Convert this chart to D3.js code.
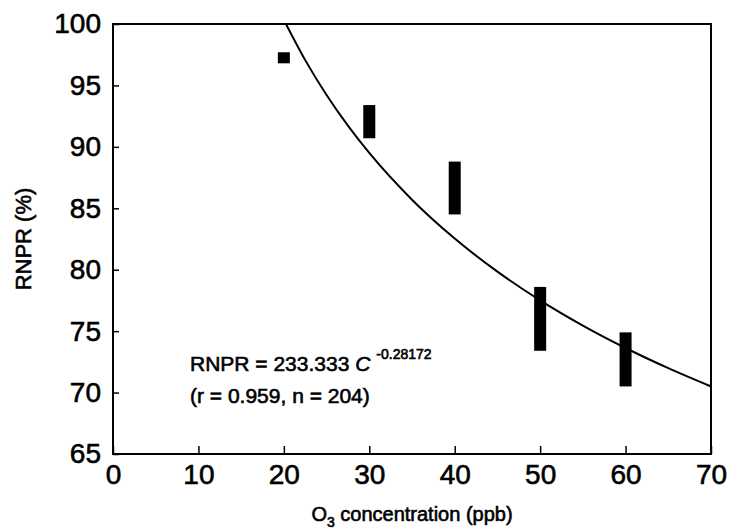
<!DOCTYPE html>
<meta charset="utf-8">
<style>
body { margin: 0; background: #fff; }
text { font-family: "Liberation Sans", Arial, sans-serif; fill: #000; }
.heavy { stroke: #000; stroke-width: 0.6px; }
</style>
<svg width="730" height="532"></svg>
<script src="https://cdn.jsdelivr.net/npm/d3@7"></script>
<script>
var conc = [20, 30, 40, 50, 60]
var rnprLow = [96.8, 90.7, 84.5, 73.4, 70.5]
var rnprHigh = [97.7, 93.4, 88.8, 78.6, 74.9]

// fitted power curve stated on the chart: RNPR = a * C^b
var fitA = 233.333
var fitB = -0.28172
var fitC = [20, 22.5, 25, 27.5, 30, 35, 40, 45, 50, 55, 60, 65, 70]

var xTicks = [0, 10, 20, 30, 40, 50, 60, 70]
var yTicks = [65, 70, 75, 80, 85, 90, 95, 100]

var svg = d3.select("svg")
var L = 113, R = 711, T = 24, B = 454

var x = d3.scaleLinear().domain([0, 70]).range([L, R])
var y = d3.scaleLinear().domain([65, 100]).range([B, T])

// frame
svg.append("rect")
  .attr("x", L).attr("y", T)
  .attr("width", R - L).attr("height", B - T)
  .attr("fill", "none").attr("stroke", "#000").attr("stroke-width", 2)

var xAxis = svg.append("g")
  .attr("transform", "translate(0," + B + ")")
  .call(d3.axisBottom(x).tickValues(xTicks).tickSizeInner(-8).tickSizeOuter(0).tickPadding(10))
xAxis.select(".domain").remove()
xAxis.selectAll("line").attr("stroke-width", 1.5)
xAxis.selectAll("text").attr("class", "heavy").attr("font-size", 28).attr("dy", "0.72em")

var yAxis = svg.append("g")
  .attr("transform", "translate(" + L + ",0)")
  .call(d3.axisLeft(y).tickValues(yTicks).tickSizeInner(-6).tickSizeOuter(0).tickPadding(12))
yAxis.select(".domain").remove()
yAxis.selectAll("line").attr("stroke-width", 1.5)
yAxis.selectAll("text").attr("class", "heavy").attr("font-size", 28)

// fitted curve, clipped to the frame
svg.append("clipPath").attr("id", "clip")
  .append("rect").attr("x", L).attr("y", T).attr("width", R - L).attr("height", B - T)

var line = d3.line()
  .x(function(c) { return x(c) })
  .y(function(c) { return y(fitA * Math.pow(c, fitB)) })
  .curve(d3.curveMonotoneX)

svg.append("path")
  .datum(fitC)
  .attr("clip-path", "url(#clip)")
  .attr("d", line)
  .attr("fill", "none")
  .attr("stroke", "#000")
  .attr("stroke-width", 2)

// data ranges
svg.append("g").selectAll("rect")
  .data(conc)
  .enter().append("rect")
    .attr("x", function(c) { return x(c) - 6 })
    .attr("width", 12)
    .attr("y", function(c, i) { return y(rnprHigh[i]) })
    .attr("height", function(c, i) { return y(rnprLow[i]) - y(rnprHigh[i]) })
    .attr("fill", "#000")

// equation
var eq = svg.append("text")
  .attr("class", "heavy")
  .attr("x", 190).attr("y", 371)
  .attr("font-size", 21)
eq.append("tspan").text("RNPR = 233.333 ")
eq.append("tspan").attr("font-style", "italic").text("C")
eq.append("tspan").attr("font-size", 14).attr("dx", 6).attr("dy", -12).text("-0.28172")

svg.append("text")
  .attr("class", "heavy")
  .attr("x", 190).attr("y", 403)
  .attr("font-size", 21)
  .text("(r = 0.959, n = 204)")

// axis titles
var xt = svg.append("text")
  .attr("class", "heavy")
  .attr("x", (L + R) / 2).attr("y", 521)
  .attr("text-anchor", "middle")
  .attr("font-size", 20)
xt.append("tspan").text("O")
xt.append("tspan").attr("font-size", 14).attr("dy", 6).text("3")
xt.append("tspan").attr("dy", -6).text(" concentration (ppb)")

svg.append("text")
  .attr("class", "heavy")
  .attr("transform", "translate(31," + (T + B) / 2 + ") rotate(-90)")
  .attr("text-anchor", "middle")
  .attr("font-size", 22)
  .text("RNPR (%)")
</script>
